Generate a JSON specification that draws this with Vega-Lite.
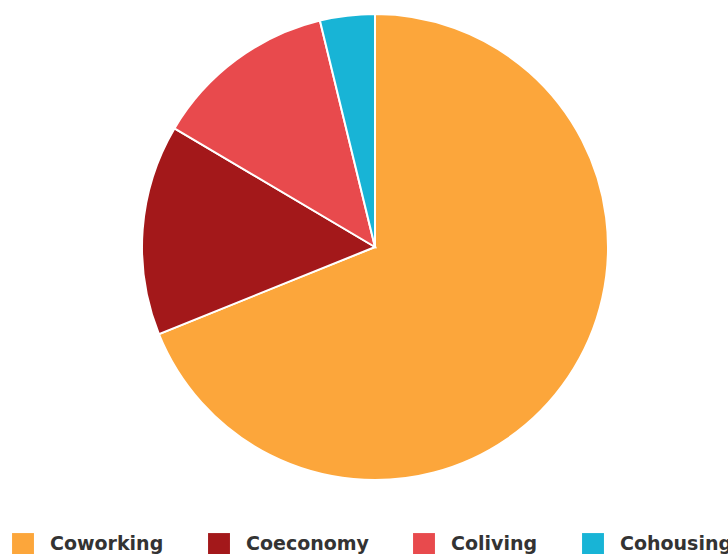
{
  "$schema": "https://vega.github.io/schema/vega-lite/v6.json",
  "width": 750,
  "height": 494,
  "padding": 0,
  "background": "white",
  "data": {"values": [
    {"type": "Coworking", "value": 68.9},
    {"type": "Coeconomy", "value": 14.6},
    {"type": "Coliving", "value": 12.7},
    {"type": "Cohousing", "value": 3.8}
  ]},
  "mark": {"type": "arc", "outerRadius": 233, "stroke": "white", "strokeWidth": 2},
  "encoding": {
    "theta": {"field": "value", "type": "quantitative", "stack": true},
    "order": {"field": "value", "type": "quantitative", "sort": "descending"},
    "color": {
      "field": "type", "type": "nominal",
      "scale": {"domain": ["Coworking", "Coeconomy", "Coliving", "Cohousing"], "range": ["#FCA63B", "#A3181A", "#E84A4D", "#18B4D6"]},
      "legend": {
        "title": null,
        "orient": "none",
        "direction": "horizontal",
        "legendX": 12,
        "legendY": 533,
        "symbolType": "square",
        "symbolSize": 480,
        "symbolStrokeWidth": 0,
        "symbolOpacity": 1,
        "labelFont": "DejaVu Sans",
        "labelFontSize": 19,
        "labelFontWeight": "bold",
        "labelColor": "#333333",
        "labelOffset": 16,
        "columnPadding": 44,
        "labelLimit": 300
      }
    }
  },
  "config": {"view": {"stroke": null}}
}
